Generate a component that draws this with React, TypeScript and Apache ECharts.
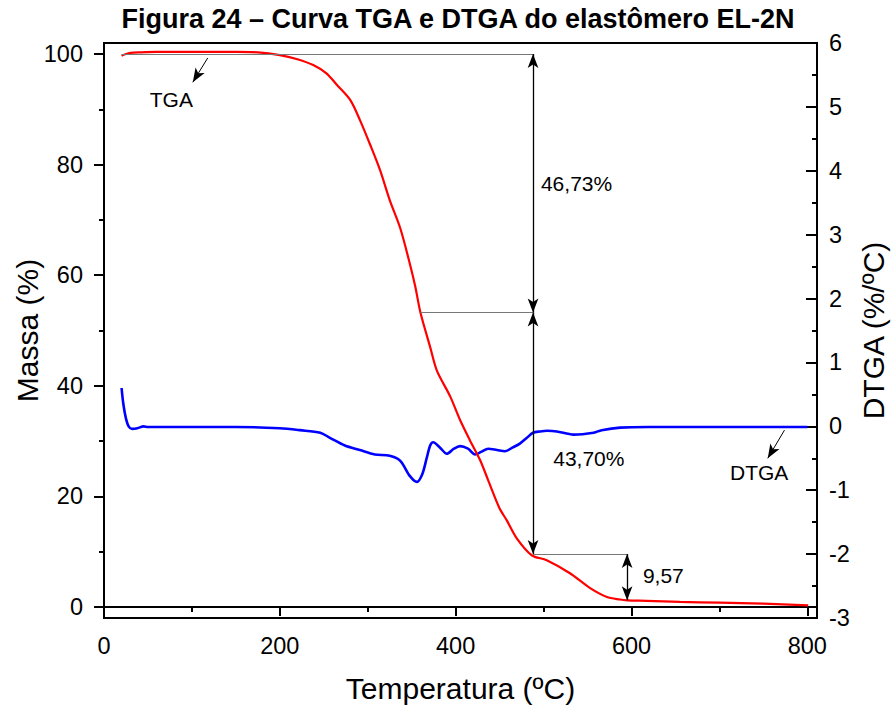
import React, { useEffect, useRef } from 'react';
import * as echarts from 'echarts';

const chartTitle = 'Figura 24 – Curva TGA e DTGA do elastômero EL-2N';
const xName = 'Temperatura (ºC)';
const massName = 'Massa (%)';
const dtgaName = 'DTGA (%/ºC)';

// TGA curve (mass %, left axis)
const tgaTemp = [20, 25, 30, 40, 60, 100, 150, 175, 200, 219, 238, 253, 265, 280, 291, 303, 314, 325, 337, 348, 354, 360, 371, 378.5, 394, 405, 416, 428, 437, 450, 458, 469.5, 486.5, 503.6, 530, 553, 572, 587, 595, 617, 655, 700, 750, 801];
const tgaMass = [99.7, 100.0, 100.2, 100.3, 100.4, 100.4, 100.4, 100.3, 99.8, 99.1, 98.0, 96.5, 94.4, 91.7, 88.1, 83.5, 79.0, 73.6, 68.5, 62.0, 58.0, 53.2, 47.0, 42.8, 38.0, 33.8, 30.2, 26.5, 22.9, 17.8, 15.7, 12.4, 9.35, 8.45, 6.1, 3.4, 1.8, 1.34, 1.2, 1.1, 0.9, 0.78, 0.6, 0.3];

// DTGA curve (%/ºC, right axis)
const dtgaTemp = [20, 22, 25, 28, 32, 38, 45, 50, 100, 150, 200, 223, 246, 257, 274, 291, 308, 325, 337, 348, 356, 362, 367, 371, 374.5, 382, 390, 398, 405, 414, 422, 429, 437, 447, 456, 465, 473, 481, 488, 496, 504, 515, 534, 557, 566, 587, 620, 700, 800];
const dtgaRate = [0.6, 0.35, 0.12, 0.0, -0.04, -0.03, 0.0, -0.01, -0.01, -0.01, -0.03, -0.06, -0.1, -0.18, -0.3, -0.37, -0.44, -0.46, -0.54, -0.78, -0.87, -0.75, -0.5, -0.3, -0.25, -0.33, -0.43, -0.35, -0.31, -0.35, -0.44, -0.4, -0.35, -0.37, -0.39, -0.33, -0.27, -0.18, -0.1, -0.08, -0.07, -0.08, -0.13, -0.1, -0.06, -0.02, -0.01, -0.01, -0.01];

// Axis ticks
const xTicks = [0, 200, 400, 600, 800];
const xMinorTicks = [100, 300, 500, 700];
const massTicks = [0, 20, 40, 60, 80, 100];
const massMinorTicks = [10, 30, 50, 70, 90];

// Mass-loss steps
const stepTemp = 488;
const lastStepTemp = 595;
const levels = [100, 53.27, 9.57, 1.2];
const guideStartTemps = [20, 360];
const stepLabels = ['46,73%', '43,70%', '9,57'];
const stepLabelPos = [[497, 76.5], [511, 26.9], [613, 5.7]];
const curveLabels = ['TGA', 'DTGA'];
const curveLabelPos = [[52, 91.7], [712, 24.4]];
const tgaPointer = [[118, 99.3], [101, 94.9]];
const dtgaPointer = [[774, -0.06], [755, -0.5]];

const FONT = '"Liberation Sans", Arial, Helvetica, sans-serif';

export default function App() {
  const ref = useRef<HTMLDivElement>(null);
  useEffect(() => {
    if (!ref.current) return;
    const chart = echarts.init(ref.current, null, { renderer: 'svg' });
    const black = '#000';
    const tickStyle = { color: black, width: 2 };

    const arrowLine = (a: number[], b: number[], both: boolean, color = black, width = 1.3) => [
      { coord: a, symbol: both ? 'arrow' : 'none', lineStyle: { color, width, type: 'solid' } },
      { coord: b, symbol: 'arrow', lineStyle: { color, width, type: 'solid' } },
    ];
    const plainLine = (a: number[], b: number[], color = '#777', width = 1.2) => [
      { coord: a, symbol: 'none', lineStyle: { color, width, type: 'solid' } },
      { coord: b, symbol: 'none', lineStyle: { color, width, type: 'solid' } },
    ];

    const option: any = {
      animation: false,
      backgroundColor: '#fff',
      textStyle: { fontFamily: FONT },
      title: {
        text: chartTitle,
        left: 453,
        textAlign: 'center',
        top: 0,
        textStyle: { fontFamily: FONT, fontSize: 27, fontWeight: 'bold', color: black },
      },
      grid: {
        left: 104, right: 75, top: 43, bottom: 93,
        containLabel: false, outerBoundsMode: 'none',
        show: true, borderColor: black, borderWidth: 2, backgroundColor: 'transparent',
      },
      xAxis: [
        {
          type: 'value', position: 'bottom', min: 0, max: 811,
          axisLine: { show: true, lineStyle: tickStyle },
          axisTick: { show: true, customValues: xTicks, length: 9, lineStyle: tickStyle },
          axisLabel: { customValues: xTicks, fontSize: 23.5, color: black, margin: 16, fontFamily: FONT },
          splitLine: { show: false },
          name: xName, nameLocation: 'middle', nameGap: 55, nameMoveOverlap: false,
          nameTextStyle: { fontSize: 30, color: black, fontFamily: FONT },
        },
        {
          type: 'value', position: 'bottom', min: 0, max: 811,
          axisLine: { show: false },
          axisTick: { show: true, customValues: xMinorTicks, length: 5, lineStyle: tickStyle },
          axisLabel: { show: false },
          splitLine: { show: false },
        },
      ],
      yAxis: [
        {
          type: 'value', position: 'left', min: -2, max: 102,
          axisLine: { show: true, lineStyle: tickStyle },
          axisTick: { show: true, customValues: massTicks, length: 10, lineStyle: tickStyle },
          axisLabel: { customValues: massTicks, fontSize: 23.5, color: black, margin: 21, fontFamily: FONT },
          splitLine: { show: false },
          name: massName, nameLocation: 'middle', nameGap: 62, nameRotate: 90, nameMoveOverlap: false,
          nameTextStyle: { fontSize: 30, color: black, fontFamily: FONT },
        },
        {
          type: 'value', position: 'left', min: -2, max: 102,
          axisLine: { show: false },
          axisTick: { show: true, customValues: massMinorTicks, length: 5, lineStyle: tickStyle },
          axisLabel: { show: false },
          splitLine: { show: false },
        },
        {
          type: 'value', position: 'right', min: -3, max: 6, interval: 1,
          axisLine: { show: true, lineStyle: tickStyle },
          axisTick: { show: true, inside: true, length: 11, lineStyle: tickStyle },
          minorTick: { show: true, splitNumber: 2, length: 5, lineStyle: tickStyle },
          axisLabel: { fontSize: 23.5, color: black, margin: 12, fontFamily: FONT },
          splitLine: { show: false },
          name: dtgaName, nameLocation: 'middle', nameGap: 41, nameRotate: 90, nameMoveOverlap: false,
          nameTextStyle: { fontSize: 30, color: black, fontFamily: FONT },
        },
      ],
      series: [
        {
          name: 'TGA', type: 'line', xAxisIndex: 0, yAxisIndex: 0,
          data: tgaTemp.map((t, i) => [t, tgaMass[i]]),
          showSymbol: false, smooth: 0.3, z: 4,
          lineStyle: { color: '#ff0000', width: 2.2 },
          markLine: {
            silent: true, animation: false, symbolSize: [8, 14],
            label: { show: false },
            data: [
              plainLine([guideStartTemps[0], levels[0]], [stepTemp, levels[0]]),
              plainLine([guideStartTemps[1], levels[1]], [stepTemp, levels[1]]),
              plainLine([stepTemp, levels[2]], [lastStepTemp, levels[2]]),
              arrowLine([stepTemp, levels[0]], [stepTemp, levels[1]], true),
              arrowLine([stepTemp, levels[1]], [stepTemp, levels[2]], true),
              arrowLine([lastStepTemp, levels[2]], [lastStepTemp, levels[3]], true),
              arrowLine(tgaPointer[0], tgaPointer[1], false, black, 1),
            ],
          },
        },
        {
          name: 'DTGA', type: 'line', xAxisIndex: 0, yAxisIndex: 2,
          data: dtgaTemp.map((t, i) => [t, dtgaRate[i]]),
          showSymbol: false, smooth: 0.3, z: 3,
          lineStyle: { color: '#0000ff', width: 2.6 },
          markLine: {
            silent: true, animation: false, symbolSize: [8, 14],
            label: { show: false },
            data: [arrowLine(dtgaPointer[0], dtgaPointer[1], false, black, 1)],
          },
        },
        {
          name: 'labels', type: 'scatter', xAxisIndex: 0, yAxisIndex: 0,
          symbolSize: 0, silent: true,
          data: [...stepLabels.map((s, i) => ({ value: stepLabelPos[i], name: s })),
                 ...curveLabels.map((s, i) => ({ value: curveLabelPos[i], name: s }))],
          label: {
            show: true, position: 'inside', align: 'left', verticalAlign: 'middle',
            formatter: (p: any) => p.name, fontSize: 21, color: black, fontFamily: FONT,
            textBorderWidth: 0, opacity: 1,
          },
        },
      ],
    };
    chart.setOption(option);
    return () => chart.dispose();
  }, []);
  return <div ref={ref} style={{ position: 'fixed', left: 0, top: 0, width: 892, height: 711 }} />;
}
